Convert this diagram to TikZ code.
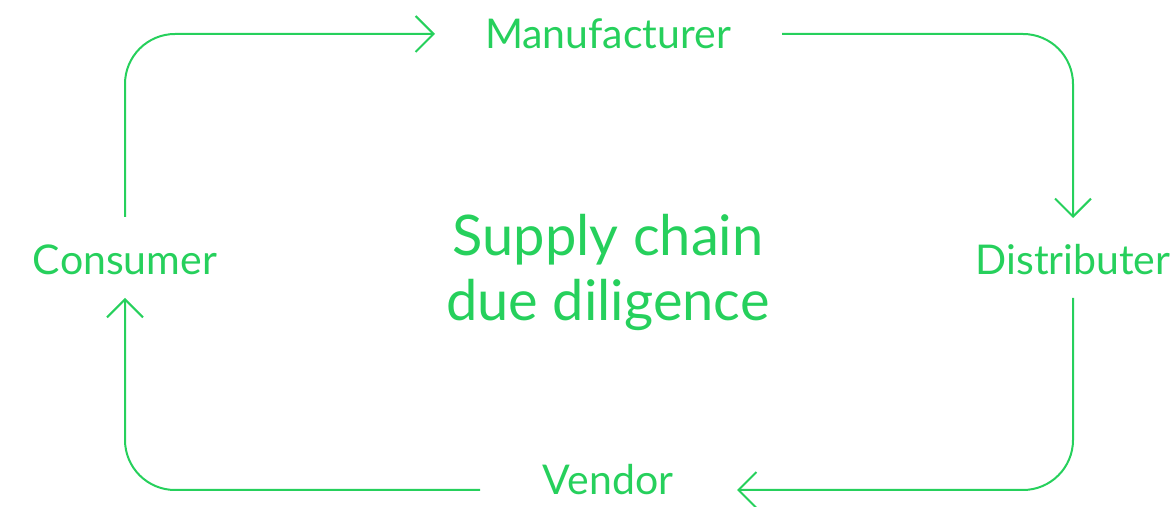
\documentclass[tikz,border=0pt]{standalone}
\usepackage{fontspec}
\setmainfont{Lato}
\usetikzlibrary{arrows.meta,positioning}
\definecolor{chaingreen}{RGB}{38,208,92}

\begin{document}
\begin{tikzpicture}[x=0.5pt, y=-0.5pt,
    stage/.style={text=chaingreen, font=\fontsize{20.5}{24}\selectfont, inner sep=0pt},
    flow/.style={draw=chaingreen, line width=1pt, rounded corners=25pt,
        -{Straight Barb[length=9pt,width=18pt]}}]
    \useasboundingbox (0,0) rectangle (1173,507);

    % Stages of the chain
    \node[stage] (manu) at (608,34) {Manufacturer};
    \node[stage] (dist) at (1073,260) {Distributer};
    \node[stage] (vend) at (608,480) {Vendor};
    \node[stage] (cons) at (125,260) {Consumer};

    % Title in the middle
    \node[text=chaingreen, font=\fontsize{28}{32.5}\selectfont, align=center] (title) at (608,272) {Supply chain\\due diligence};

    % Loop of arrows
    \draw[flow, shorten <=21.5pt, shorten >=86.5pt] (cons.center) |- (manu.center);
    \draw[flow, shorten <=87pt, shorten >=21pt] (manu.center) -| (dist.center);
    \draw[flow, shorten <=19pt, shorten >=64.5pt] (dist.center) |- ([yshift=-5pt]vend.center);
    \draw[flow, shorten <=64pt, shorten >=19pt] ([yshift=-5pt]vend.center) -| (cons.center);
\end{tikzpicture}
\end{document}
